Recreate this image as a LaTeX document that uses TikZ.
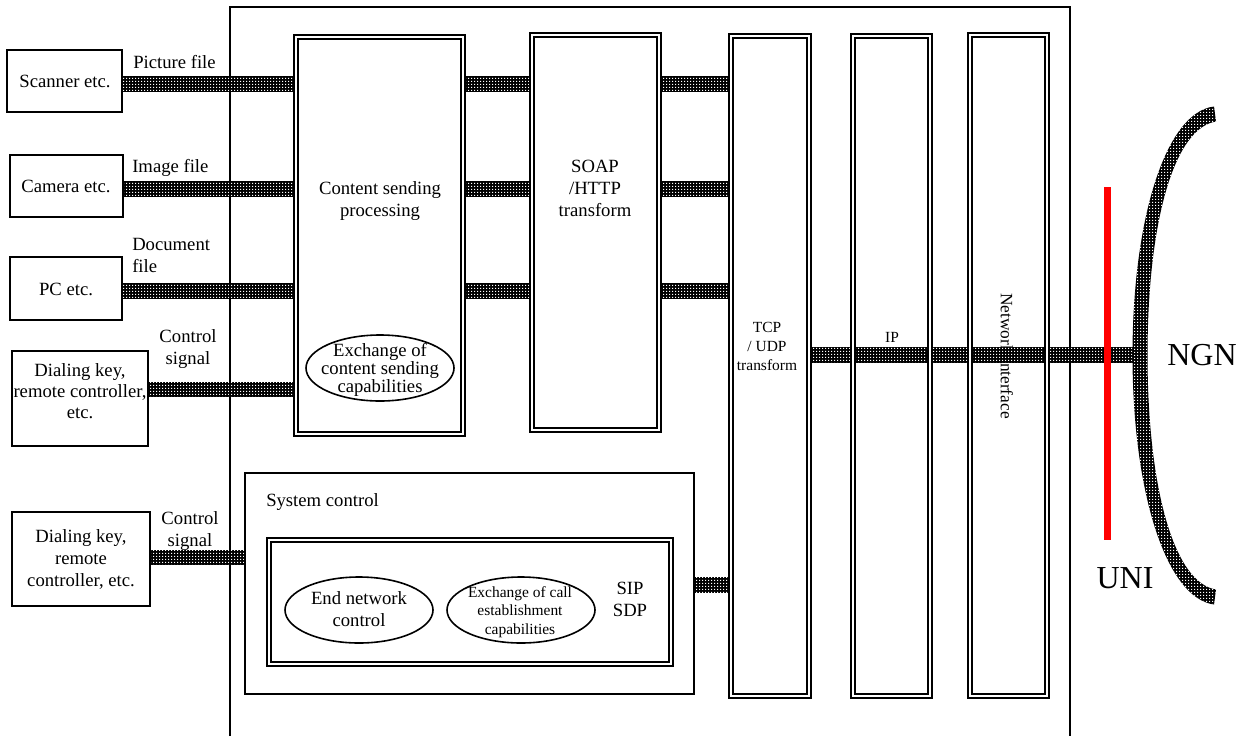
\documentclass[tikz,border=0pt]{standalone}
\usepackage{fontspec}
\setmainfont{Liberation Serif}
\usetikzlibrary{patterns,shapes.geometric,fit}
\pgfdeclarepatternformonly{bardots}{\pgfpointorigin}{\pgfpoint{2.25pt}{2.25pt}}{\pgfpoint{2.25pt}{2.25pt}}{\pgfpathrectangle{\pgfpointorigin}{\pgfpoint{1.1pt}{1.1pt}}\pgfusepath{fill}}
\pgfdeclarelayer{under}
\pgfdeclarelayer{barlayer}
\pgfsetlayers{under,barlayer,main}
\begin{document}
\begin{tikzpicture}[x=0.75pt,y=-0.75pt,
  sbox/.style={draw, line width=1.2pt, inner sep=0pt, outer sep=0pt},
  obox/.style={draw, line width=1.1pt},
  dbox/.style={draw, double, line width=1.4pt, double distance=1.6pt, inner sep=0pt, outer sep=0pt},
  ell/.style={draw, ellipse, line width=1.2pt, inner sep=0pt, outer sep=0pt, minimum width=111pt, minimum height=49.5pt},
  lbl/.style={inner sep=0pt, align=center, font=\fontsize{14}{16.5}\selectfont},
  slbl/.style={inner sep=0pt, align=center, font=\fontsize{11.6}{14}\selectfont},
  blbl/.style={inner sep=0pt, align=center, font=\fontsize{24}{28}\selectfont},
  bar/.style={preaction={fill=black}, pattern=bardots, pattern color=white},
  uniline/.style={draw=red, line width=5.25pt}
]
\useasboundingbox (0,0) rectangle (1248,736);

% outer frame (open at the bottom)
\coordinate (fbl) at (230,736);
\coordinate (ftl) at (230,7);
\coordinate (ftr) at (1070,7);
\coordinate (fbr) at (1070,736);
\draw[obox] (fbl) -- (ftl) -- (ftr) -- (fbr);

% left devices
\node[sbox, fit={(7,50) (122,112)}] (scan) {};
\node[sbox, fit={(10,155) (123,217)}] (cam) {};
\node[sbox, fit={(10,257) (122,320)}] (pc) {};
\node[sbox, fit={(12,351) (148,446)}] (dial1) {};
\node[sbox, fit={(12,512) (150,606)}] (dial2) {};
\node[lbl] (scant) at (65,81) {Scanner etc.};
\node[lbl] (camt) at (66,186) {Camera etc.};
\node[lbl] (pct) at (66,289) {PC etc.};
\node[lbl, font=\fontsize{14}{15.75}\selectfont] (dial1t) at (80,391) {Dialing key,\\remote controller,\\etc.};
\node[lbl] (dial2t) at (81,559) {Dialing key,\\remote\\controller, etc.};

% connector labels
\node[lbl, anchor=west] (picl) at (133,62) {Picture file};
\node[lbl, anchor=west] (imgl) at (132,168) {Image file};
\node[lbl, anchor=west, align=left] (docl) at (132,255) {Document\\file};
\node[lbl] (ctl1) at (188,349) {Control\\signal};
\node[lbl] (ctl2) at (190,531) {Control\\signal};

% processing blocks
\node[dbox, fit={(296,37) (463,434)}] (cont) {};
\node[dbox, fit={(532,35) (659,430)}] (soap) {};
\node[dbox, fit={(731,36) (809,696)}] (tcp) {};
\node[dbox, fit={(853,36) (930,696)}] (ip) {};
\node[dbox, fit={(970,35) (1047,696)}] (ni) {};
\node[sbox, fit={(245,473) (694,694)}] (sys) {};
\node[dbox, fit={(269,540) (671,664)}] (sip) {};

\node[lbl] (contt) at (380,201) {Content sending\\processing};
\node[lbl] (soapt) at (595,188) {SOAP\\/HTTP\\transform};
\node[slbl, font=\fontsize{11.6}{14.25}\selectfont] (tcpt) at (767,346) {TCP\\/ UDP\\transform};
\node[slbl] (ipt) at (892,337) {IP};
\begin{pgfonlayer}{under}
\node[lbl, font=\fontsize{13}{15}\selectfont, rotate=-90] (nit) at (1007,356) {Network interface};
\end{pgfonlayer}

\node[ell] (excont) at (380,368) {};
\node[lbl, font=\fontsize{14}{13.5}\selectfont] (excontt) at (380,370) {Exchange of\\content sending\\capabilities};

\node[lbl, anchor=west] (syst) at (266,502) {System control};
\node[ell] (endnet) at (359,610) {};
\node[lbl] (endnett) at (359,609) {End network\\control};
\node[ell] (excall) at (521,610) {};
\node[slbl, font=\fontsize{11.6}{13.9}\selectfont] (excallt) at (520,612) {Exchange of call\\establishment\\capabilities};
\node[lbl] (sipt) at (630,599) {SIP\\SDP};

% network side
\coordinate (ngnmid) at (1140,355);
\coordinate (uniA) at (1107,187);
\coordinate (uniB) at (1107,540);
\node[blbl] (ngnt) at (1202,355) {NGN};
\node[blbl] (unit) at (1125,578) {UNI};

% bars
\begin{pgfonlayer}{barlayer}
\fill[bar] (scan.east |- 0,76) rectangle (cont.west |- 0,92);
\fill[bar] (cont.east |- 0,76) rectangle (soap.west |- 0,92);
\fill[bar] (soap.east |- 0,76) rectangle (tcp.west |- 0,92);
\fill[bar] (cam.east |- 0,181) rectangle (cont.west |- 0,197);
\fill[bar] (cont.east |- 0,181) rectangle (soap.west |- 0,197);
\fill[bar] (soap.east |- 0,181) rectangle (tcp.west |- 0,197);
\fill[bar] (pc.east |- 0,283) rectangle (cont.west |- 0,299);
\fill[bar] (cont.east |- 0,283) rectangle (soap.west |- 0,299);
\fill[bar] (soap.east |- 0,283) rectangle (tcp.west |- 0,299);
\fill[bar] (dial1.east |- 0,382) rectangle (cont.west |- 0,397);
\fill[bar] (dial2.east |- 0,550) rectangle (sys.west |- 0,565);
\fill[bar] (sys.east |- 0,577) rectangle (tcp.west |- 0,593);
\fill[bar] (tcp.east |- 0,347) rectangle (ngnmid |- 0,363);
% NGN arc
\fill[bar] (1214,106.5) .. controls (1166,112) and (1132.5,218) .. (1132.5,355)
  .. controls (1132.5,492) and (1166,598) .. (1214,604.5)
  -- (1216,589.5) .. controls (1174,583) and (1147.5,488) .. (1147.5,355)
  .. controls (1147.5,222) and (1174,128) .. (1216,121.5) -- cycle;
\end{pgfonlayer}

\draw[uniline] (uniA) -- (uniB);
\end{tikzpicture}
\end{document}
